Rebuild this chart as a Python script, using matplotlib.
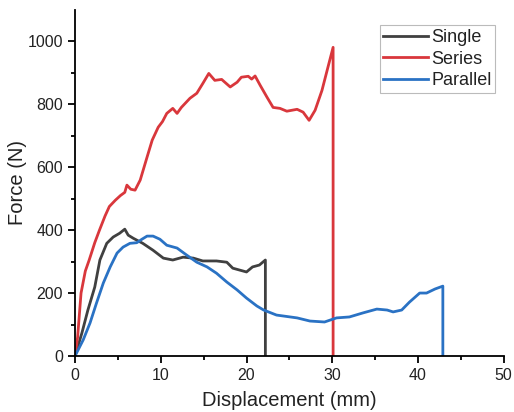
import numpy as np
import matplotlib.pyplot as plt

plt.rcParams['font.family'] = ['Liberation Sans', 'DejaVu Sans']

# displacement (mm) / force (N)
single_x = [0, 0.8, 1.5, 2.3, 2.9, 3.7, 4.45, 5.2, 5.8, 6.2, 6.8, 7.9, 9.1, 10.3, 11.4,
            12.6, 13.8, 14.9, 16.5, 17.7, 18.4, 19.2, 20.0, 20.7, 21.5, 22.2, 22.2]
single_y = [0, 73, 146, 219, 305, 358, 378, 390, 403, 384, 374, 358, 336, 311, 305,
            314, 311, 302, 302, 298, 279, 273, 267, 283, 289, 305, 0]

series_x = [0, 0.3, 0.7, 1.2, 1.65, 2.3, 2.85, 3.5, 4.0, 4.7, 5.3, 5.8, 6.05, 6.5, 7.0,
            7.6, 8.4, 9.0, 9.7, 10.2, 10.7, 11.4, 11.9, 12.4, 13.4, 14.2, 14.9, 15.6,
            16.3, 17.1, 18.1, 18.9, 19.4, 20.2, 20.6, 21.0, 21.6, 22.4, 23.1, 23.9, 24.7,
            25.9, 26.6, 27.3, 28.0, 28.8, 29.5, 30.1, 30.1]
series_y = [0, 60, 200, 270, 305, 360, 400, 445, 475, 495, 510, 520, 543, 530, 527,
            559, 632, 686, 727, 745, 771, 787, 771, 790, 819, 835, 866, 898,
            876, 879, 855, 870, 886, 889, 880, 890, 860, 822, 790, 787, 778,
            784, 775, 749, 781, 844, 918, 981, 0]

parallel_x = [0, 0.95, 1.75, 2.5, 3.3, 4.1, 4.9, 5.6, 6.4, 7.2, 7.8, 8.4, 9.1, 9.9, 10.7,
              11.9, 13.0, 14.2, 15.4, 16.5, 17.7, 18.9, 20.0, 21.2, 22.0, 23.5, 25.9,
              27.4, 29.1, 30.5, 32.0, 33.6, 35.2, 36.4, 37.1, 38.1, 39.0, 40.2, 41.0,
              42.0, 42.9, 42.9]
parallel_y = [0, 51, 105, 168, 232, 283, 327, 346, 358, 360, 371, 381, 381, 371, 352,
              343, 321, 298, 283, 263, 235, 210, 184, 159, 146, 130, 121,
              111, 108, 121, 124, 137, 149, 146, 140, 146, 171, 200, 200,
              213, 222, 0]

fig = plt.figure(figsize=(5.14, 4.12), dpi=100)
ax = fig.add_axes([0.146, 0.136, 0.834, 0.84])

ax.plot(single_x, single_y, color='#404040', lw=2, label='Single')
ax.plot(series_x, series_y, color='#d9373c', lw=2, label='Series')
ax.plot(parallel_x, parallel_y, color='#2a72c4', lw=2, label='Parallel')

ax.set_xlim(0, 50)
ax.set_ylim(0, 1100)
ax.set_xticks(np.arange(0, 51, 10))
ax.set_xticks(np.arange(5, 50, 10), minor=True)
ax.set_yticks(np.arange(0, 1001, 200))
ax.set_yticks(np.arange(100, 1100, 200), minor=True)
ax.tick_params(which='major', direction='out', length=5, width=1.3, labelsize=11.5,
               labelcolor='#222222')
ax.tick_params(which='minor', direction='out', length=3, width=1.3)
for s in ['top', 'right']:
    ax.spines[s].set_visible(False)
for s in ['left', 'bottom']:
    ax.spines[s].set_linewidth(1.3)

ax.set_xlabel('Displacement (mm)', fontsize=14.5, labelpad=6, color='#222222')
ax.set_ylabel('Force (N)', fontsize=14.5, color='#222222')
ax.yaxis.set_label_coords(-0.112, 0.5)

leg = ax.legend(loc='upper right', bbox_to_anchor=(0.98, 0.955), fontsize=13,
                frameon=True, fancybox=False, handlelength=2.5, handletextpad=0.15,
                borderpad=0.2, labelspacing=0.25, borderaxespad=0)
leg.get_frame().set_edgecolor('#aaaaaa')
leg.get_frame().set_linewidth(0.8)
for t in leg.get_texts():
    t.set_color('#222222')

fig.savefig('out.png', dpi=100)
